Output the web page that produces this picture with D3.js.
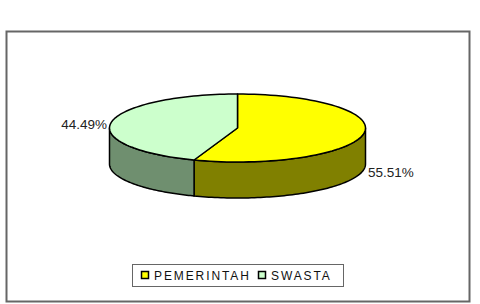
<!DOCTYPE html>
<html><head><meta charset="utf-8">
<script src="https://cdn.jsdelivr.net/npm/d3@7"></script>
<style>body{margin:0;background:#fff;} svg{display:block;}</style>
</head><body>
<svg id="c" width="480" height="304"></svg>
<script>
const categories = ["PEMERINTAH", "SWASTA"];
const values = [55.51, 44.49];
const labels = ["55.51%", "44.49%"];
const topColors = ["#FFFF00", "#CCFFCC"];
const sideColors = ["#808000", "#6F8F6F"];

const svg = d3.select("#c");
// frame
svg.append("rect").attr("x",6.5).attr("y",31.5).attr("width",463).attr("height",270)
  .attr("fill","#fff").attr("stroke","#666").attr("stroke-width",2);

const cx = 237.5, cy = 128, rx = 128, ry = 34, depth = 36;
const pie = d3.pie().sort(null).startAngle(0).endAngle(2*Math.PI);
const arcs = pie(values);
const pt = (a, dy=0) => [cx + rx*Math.sin(a), cy - ry*Math.cos(a) + dy];
const line = d3.line();
function samples(a0, a1, n=80){ return d3.range(n+1).map(i => a0 + (a1-a0)*i/n); }

const g = svg.append("g");
// sides (front half only: angles between PI/2 and 3PI/2)
arcs.forEach((d,i) => {
  const a0 = Math.max(d.startAngle, Math.PI/2), a1 = Math.min(d.endAngle, 3*Math.PI/2);
  if (a1 <= a0) return;
  const top = samples(a0,a1).map(a => pt(a));
  const bot = samples(a1,a0).map(a => pt(a, depth));
  g.append("path").attr("d", line(top.concat(bot)) + "Z")
    .attr("fill", sideColors[i]).attr("stroke","#000").attr("stroke-width",1.5)
    .attr("stroke-linejoin","round");
});
// tops
arcs.forEach((d,i) => {
  const pts = [[cx,cy]].concat(samples(d.startAngle, d.endAngle).map(a => pt(a)));
  g.append("path").attr("d", line(pts) + "Z")
    .attr("fill", topColors[i]).attr("stroke","#000").attr("stroke-width",1.5)
    .attr("stroke-linejoin","round");
});
// labels
const labelPos = [{x:368, y:177, anchor:"start"}, {x:107, y:129, anchor:"end"}];
arcs.forEach((d,i) => {
  g.append("text").attr("x", labelPos[i].x).attr("y", labelPos[i].y)
    .attr("text-anchor", labelPos[i].anchor)
    .attr("font-family","Liberation Sans, Arial, sans-serif").attr("font-size",13.5)
    .attr("fill","#222").text(labels[i]);
});

// legend
const lg = svg.append("g");
lg.append("rect").attr("x",132.5).attr("y",264.5).attr("width",211).attr("height",22)
  .attr("fill","#fff").attr("stroke","#666").attr("stroke-width",1);
const itemX = [141, 258];
categories.forEach((c,i) => {
  lg.append("rect").attr("x", itemX[i]+0.5).attr("y", 271.5).attr("width",7).attr("height",7)
    .attr("fill", topColors[i]).attr("stroke","#000").attr("stroke-width",1.5);
  lg.append("text").attr("x", itemX[i]+13).attr("y", 280)
    .attr("font-family","Liberation Sans, Arial, sans-serif").attr("font-size",12)
    .attr("letter-spacing", 1.9).attr("fill","#111").text(c);
});
</script>
</body></html>
